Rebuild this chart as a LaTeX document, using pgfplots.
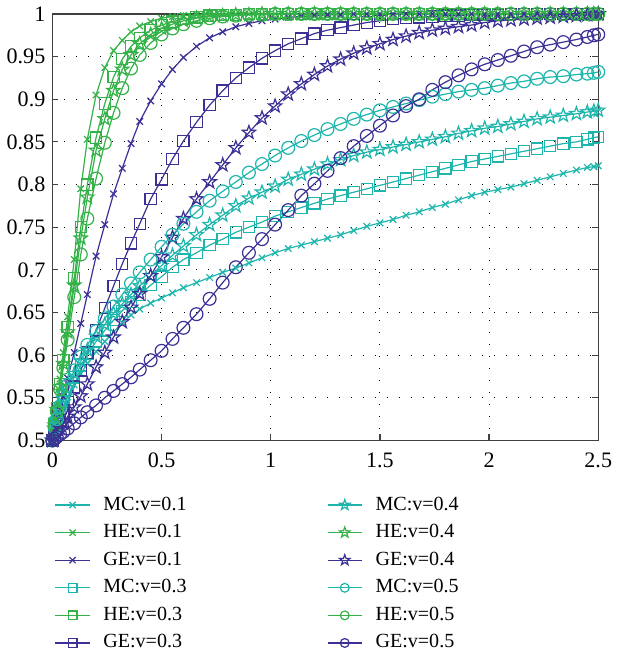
\documentclass[border=0pt]{standalone}
\usepackage{fontspec}
\setmainfont{Liberation Serif}
\usepackage{pgfplots}
\pgfplotsset{compat=1.18}
\usepackage{pgfplotstable}
\usetikzlibrary{plotmarks}

\definecolor{mccol}{RGB}{30,182,172}
\definecolor{hecol}{RGB}{52,178,72}
\definecolor{gecol}{RGB}{58,48,150}

% outlined five-pointed star
\pgfdeclareplotmark{pentagram}{%
  \pgfpathmoveto{\pgfpointpolar{90}{1.25\pgfplotmarksize}}%
  \pgfpathlineto{\pgfpointpolar{126}{0.5\pgfplotmarksize}}%
  \pgfpathlineto{\pgfpointpolar{162}{1.25\pgfplotmarksize}}%
  \pgfpathlineto{\pgfpointpolar{198}{0.5\pgfplotmarksize}}%
  \pgfpathlineto{\pgfpointpolar{234}{1.25\pgfplotmarksize}}%
  \pgfpathlineto{\pgfpointpolar{270}{0.5\pgfplotmarksize}}%
  \pgfpathlineto{\pgfpointpolar{306}{1.25\pgfplotmarksize}}%
  \pgfpathlineto{\pgfpointpolar{342}{0.5\pgfplotmarksize}}%
  \pgfpathlineto{\pgfpointpolar{18}{1.25\pgfplotmarksize}}%
  \pgfpathlineto{\pgfpointpolar{54}{0.5\pgfplotmarksize}}%
  \pgfpathclose
  \pgfusepathqstroke}

\pgfplotstableread{
x     mc1   he1   ge1   mc3   he3   ge3   mc4   he4   ge4   mc5   he5   ge5
0     0.500 0.500 0.500 0.500 0.500 0.500 0.500 0.500 0.500 0.500 0.500 0.500
0.01  0.512 0.520 0.510 0.513 0.519 0.506 0.514 0.518 0.504 0.515 0.517 0.502
0.02  0.520 0.541 0.520 0.522 0.538 0.512 0.524 0.536 0.508 0.525 0.534 0.504
0.035 0.531 0.572 0.536 0.535 0.566 0.522 0.537 0.563 0.514 0.540 0.560 0.507
0.05  0.540 0.603 0.551 0.546 0.594 0.532 0.549 0.590 0.520 0.552 0.585 0.510
0.07  0.551 0.645 0.573 0.558 0.633 0.545 0.561 0.627 0.528 0.565 0.618 0.514
0.1   0.565 0.712 0.603 0.574 0.690 0.563 0.578 0.682 0.539 0.582 0.668 0.520
0.13  0.578 0.795 0.637 0.588 0.750 0.582 0.593 0.737 0.552 0.598 0.718 0.527
0.16  0.590 0.853 0.671 0.601 0.800 0.603 0.606 0.785 0.566 0.612 0.760 0.533
0.2   0.604 0.905 0.716 0.616 0.855 0.629 0.622 0.840 0.586 0.628 0.807 0.541
0.24  0.616 0.937 0.753 0.629 0.895 0.655 0.636 0.877 0.603 0.643 0.849 0.550
0.28  0.627 0.957 0.789 0.641 0.926 0.681 0.649 0.910 0.621 0.657 0.884 0.558
0.32  0.638 0.969 0.819 0.652 0.947 0.707 0.660 0.935 0.639 0.671 0.913 0.566
0.36  0.647 0.979 0.848 0.662 0.962 0.731 0.671 0.952 0.656 0.684 0.936 0.574
0.4   0.654 0.986 0.874 0.671 0.972 0.754 0.681 0.965 0.672 0.697 0.952 0.583
0.45  0.661 0.991 0.898 0.682 0.981 0.783 0.693 0.976 0.693 0.712 0.966 0.594
0.5   0.667 0.995 0.918 0.692 0.987 0.806 0.705 0.983 0.715 0.727 0.976 0.605
0.55  0.673 0.997 0.935 0.703 0.991 0.830 0.717 0.988 0.738 0.741 0.983 0.619
0.6   0.679 0.998 0.949 0.712 0.994 0.851 0.728 0.992 0.760 0.754 0.988 0.632
0.66  0.685 0.999 0.962 0.720 0.996 0.873 0.741 0.995 0.783 0.768 0.992 0.648
0.72  0.691 1.000 0.972 0.729 0.998 0.893 0.753 0.997 0.803 0.781 0.995 0.666
0.78  0.697 1.000 0.979 0.736 0.999 0.910 0.764 0.998 0.823 0.792 0.997 0.685
0.84  0.702 1.000 0.985 0.744 0.999 0.925 0.775 0.999 0.843 0.803 0.998 0.703
0.9   0.708 1.000 0.989 0.750 1.000 0.937 0.784 0.999 0.861 0.814 0.999 0.720
0.96  0.714 1.000 0.992 0.756 1.000 0.948 0.791 1.000 0.878 0.824 0.999 0.736
1.02  0.720 1.000 0.994 0.763 1.000 0.957 0.798 1.000 0.892 0.834 1.000 0.753
1.08  0.725 1.000 0.996 0.768 1.000 0.965 0.806 1.000 0.906 0.843 1.000 0.770
1.14  0.729 1.000 0.997 0.773 1.000 0.971 0.812 1.000 0.918 0.851 1.000 0.787
1.2   0.733 1.000 0.998 0.778 1.000 0.977 0.818 1.000 0.929 0.858 1.000 0.801
1.26  0.737 1.000 0.999 0.783 1.000 0.981 0.824 1.000 0.939 0.865 1.000 0.816
1.32  0.741 1.000 0.999 0.787 1.000 0.984 0.829 1.000 0.947 0.871 1.000 0.831
1.38  0.746 1.000 1.000 0.791 1.000 0.987 0.834 1.000 0.954 0.877 1.000 0.845
1.44  0.751 1.000 1.000 0.795 1.000 0.990 0.838 1.000 0.960 0.882 1.000 0.857
1.5   0.755 1.000 1.000 0.799 1.000 0.992 0.841 1.000 0.965 0.887 1.000 0.869
1.56  0.759 1.000 1.000 0.803 1.000 0.994 0.844 1.000 0.970 0.891 1.000 0.881
1.62  0.764 1.000 1.000 0.807 1.000 0.995 0.847 1.000 0.974 0.895 1.000 0.892
1.68  0.768 1.000 1.000 0.811 1.000 0.996 0.850 1.000 0.978 0.899 1.000 0.900
1.74  0.773 1.000 1.000 0.815 1.000 0.997 0.853 1.000 0.981 0.903 1.000 0.911
1.8   0.777 1.000 1.000 0.819 1.000 0.998 0.856 1.000 0.983 0.906 1.000 0.920
1.86  0.782 1.000 1.000 0.823 1.000 0.998 0.860 1.000 0.985 0.909 1.000 0.928
1.92  0.787 1.000 1.000 0.827 1.000 0.999 0.863 1.000 0.987 0.911 1.000 0.935
1.98  0.791 1.000 1.000 0.830 1.000 0.999 0.866 1.000 0.990 0.913 1.000 0.941
2.04  0.794 1.000 1.000 0.833 1.000 0.999 0.868 1.000 0.992 0.916 1.000 0.946
2.1   0.797 1.000 1.000 0.836 1.000 1.000 0.871 1.000 0.993 0.919 1.000 0.951
2.16  0.801 1.000 1.000 0.839 1.000 1.000 0.874 1.000 0.994 0.921 1.000 0.956
2.22  0.805 1.000 1.000 0.842 1.000 1.000 0.877 1.000 0.995 0.924 1.000 0.961
2.28  0.809 1.000 1.000 0.845 1.000 1.000 0.879 1.000 0.996 0.926 1.000 0.964
2.34  0.813 1.000 1.000 0.848 1.000 1.000 0.881 1.000 0.997 0.927 1.000 0.967
2.4   0.817 1.000 1.000 0.850 1.000 1.000 0.883 1.000 0.998 0.929 1.000 0.970
2.45  0.820 1.000 1.000 0.853 1.000 1.000 0.885 1.000 0.999 0.930 1.000 0.973
2.48  0.821 1.000 1.000 0.855 1.000 1.000 0.886 1.000 0.999 0.931 1.000 0.975
2.5   0.822 1.000 1.000 0.856 1.000 1.000 0.887 1.000 1.000 0.932 1.000 0.976
}\curves

\begin{document}
\begin{tikzpicture}
\begin{axis}[
  scale only axis, width=272pt, height=212.5pt,
  xmin=0, xmax=2.5, ymin=0.5, ymax=1,
  xtick={0,0.5,1,1.5,2,2.5},
  ytick={0.5,0.55,0.6,0.65,0.7,0.75,0.8,0.85,0.9,0.95,1},
  /pgf/number format/assume math mode=true,
  yticklabel style={/pgf/number format/fixed,/pgf/number format/precision=2},
  xticklabel style={/pgf/number format/fixed, yshift=-2.5pt},
  tick label style={font=\fontsize{11}{13}\selectfont},
  grid=major,
  major grid style={black, line width=0.45pt, dash pattern=on 0.45pt off 5.5pt},
  axis line style={black!75, line width=0.6pt},
  tick style={black!75, line width=0.6pt},
  tick align=inside, major tick length=3pt,
  every axis plot/.append style={line width=0.6pt, mark options={solid}},
  legend image post style={mark size=2.2pt},
  legend columns=6, transpose legend,
  legend cell align=left,
  legend style={at={(0,0)}, anchor=north west, xshift=1pt, yshift=-27.5pt,
    draw=none, fill=none, inner sep=0pt,
    font=\fontsize{10}{12}\selectfont, row sep=4.75pt,
    nodes={inner sep=0pt, text height=7pt, text depth=2pt},
    /tikz/every odd column/.append style={column sep=6.5pt},
    /tikz/every even column/.append style={column sep=70pt}},
]
\addplot[mccol, mark=x, mark size=2.3pt] table[x=x, y=mc1] {\curves};
\addlegendentry{MC:v=0.1}
\addplot[hecol, mark=x, mark size=2.3pt] table[x=x, y=he1] {\curves};
\addlegendentry{HE:v=0.1}
\addplot[gecol, mark=x, mark size=2.3pt] table[x=x, y=ge1] {\curves};
\addlegendentry{GE:v=0.1}
\addplot[mccol, mark=square, mark size=2.8pt] table[x=x, y=mc3] {\curves};
\addlegendentry{MC:v=0.3}
\addplot[hecol, mark=square, mark size=2.8pt] table[x=x, y=he3] {\curves};
\addlegendentry{HE:v=0.3}
\addplot[gecol, mark=square, mark size=2.8pt] table[x=x, y=ge3] {\curves};
\addlegendentry{GE:v=0.3}
\addplot[mccol, mark=pentagram, mark size=2.8pt] table[x=x, y=mc4] {\curves};
\addlegendentry{MC:v=0.4}
\addplot[hecol, mark=pentagram, mark size=2.8pt] table[x=x, y=he4] {\curves};
\addlegendentry{HE:v=0.4}
\addplot[gecol, mark=pentagram, mark size=2.8pt] table[x=x, y=ge4] {\curves};
\addlegendentry{GE:v=0.4}
\addplot[mccol, mark=o, mark size=3.2pt] table[x=x, y=mc5] {\curves};
\addlegendentry{MC:v=0.5}
\addplot[hecol, mark=o, mark size=3.2pt] table[x=x, y=he5] {\curves};
\addlegendentry{HE:v=0.5}
\addplot[gecol, mark=o, mark size=3.2pt] table[x=x, y=ge5] {\curves};
\addlegendentry{GE:v=0.5}
\end{axis}
\end{tikzpicture}
\end{document}
